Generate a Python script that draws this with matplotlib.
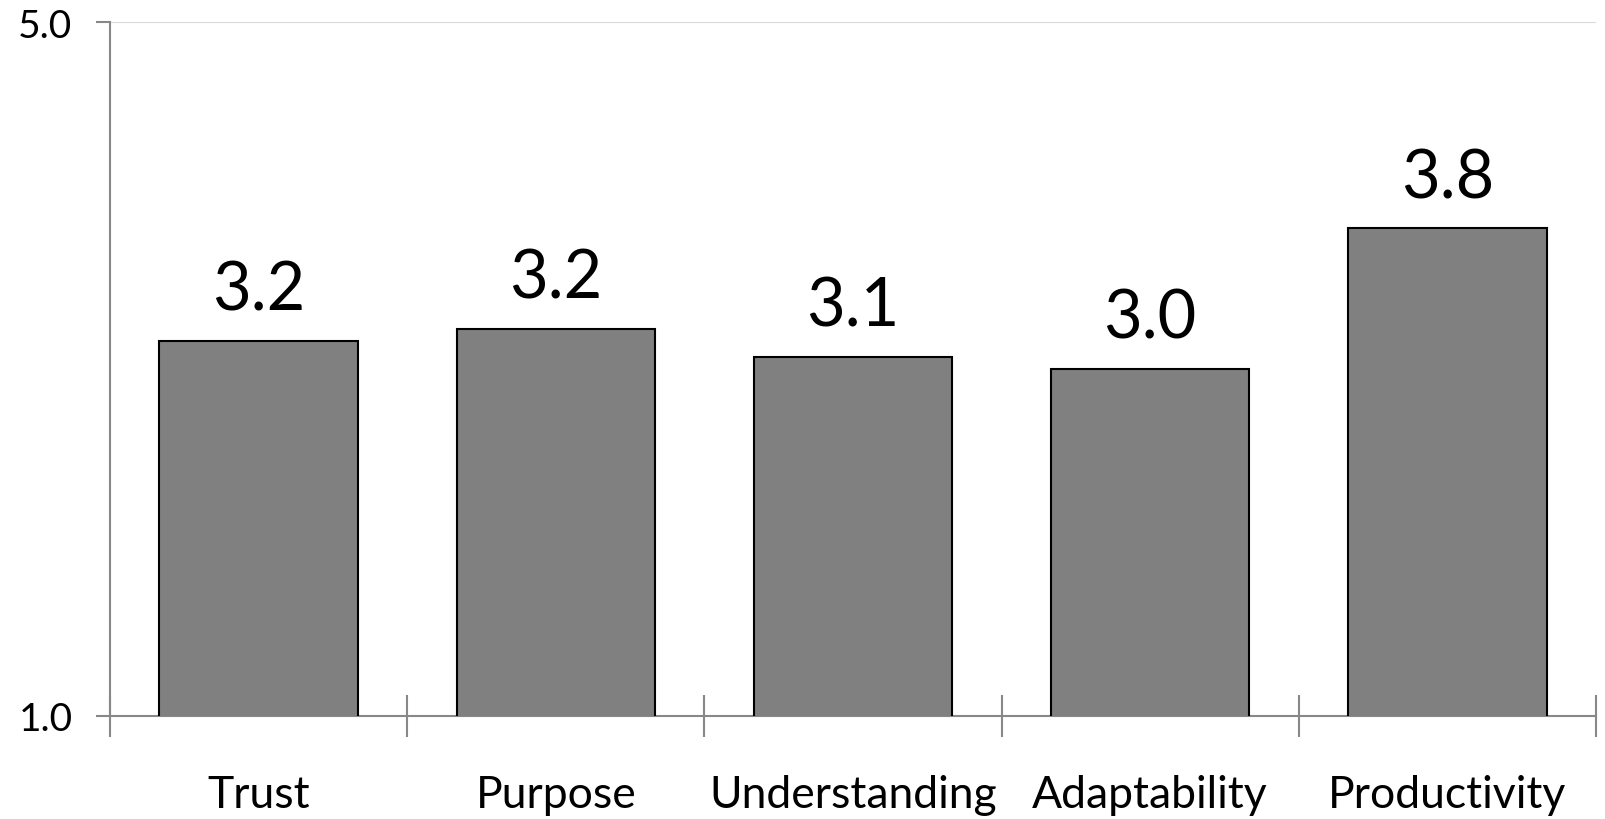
import matplotlib
matplotlib.use("Agg")
import matplotlib.pyplot as plt
import numpy as np

categories = ["Trust", "Purpose", "Understanding", "Adaptability", "Productivity"]
scores = [3.16, 3.23, 3.07, 3.00, 3.81]
y_ticks = [1.0, 5.0]

plt.rcParams["font.family"] = ["Lato", "DejaVu Sans"]

fig = plt.figure(figsize=(16.05, 8.2), dpi=100)
ax = fig.add_axes([110 / 1605, (820 - 717) / 820, (1596 - 110) / 1605, (717 - 23) / 820])

x = np.arange(len(categories))
bars = ax.bar(x, scores, width=0.667, bottom=0, color="#808080",
              edgecolor="black", linewidth=1.5, zorder=3)

for xi, v in zip(x, scores):
    ax.annotate(f"{v:.1f}", (xi, v), xytext=(0, 14), textcoords="offset points",
                ha="center", va="bottom", fontsize=48, color="black")

ax.set_ylim(1.0, 5.0)
ax.set_xlim(-0.5, len(categories) - 0.5)
ax.set_yticks(y_ticks)
ax.set_yticklabels([f"{t:.1f}" for t in y_ticks], fontsize=28)
ax.tick_params(axis="y", length=10, width=1.5, color="#888888", pad=17)

ax.set_xticks(x)
ax.set_xticklabels(categories, fontsize=32)
ax.tick_params(axis="x", length=0, pad=42)
ax.set_xticks(np.arange(-0.5, len(categories)), minor=True)
ax.tick_params(axis="x", which="minor", direction="inout", length=30, width=1.5,
               color="#888888")

for side in ("top", "right"):
    ax.spines[side].set_visible(False)
for side in ("left", "bottom"):
    ax.spines[side].set_color("#888888")
    ax.spines[side].set_linewidth(1.5)
ax.axhline(5.0, color="#d9d9d9", linewidth=1.5, zorder=1)

fig.savefig("out.png", dpi=100)
